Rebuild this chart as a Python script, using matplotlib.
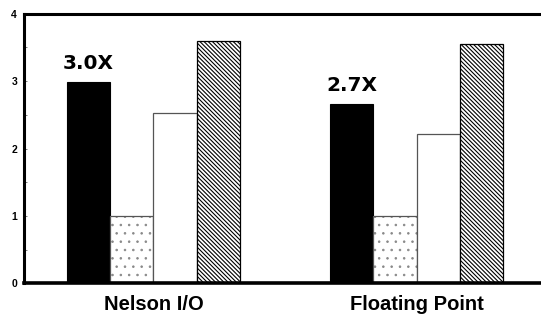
import matplotlib
matplotlib.use("Agg")
import matplotlib.pyplot as plt
import numpy as np

plt.rcParams['font.family'] = ['Liberation Sans', 'DejaVu Sans']

categories = ["Nelson I/O", "Floating Point"]
black_vals = [2.99, 2.66]
dot_vals = [1.0, 1.0]
white_vals = [2.53, 2.21]
hatch_vals = [3.59, 3.55]
annotations = ["3.0X", "2.7X"]
yticks = [0, 1, 2, 3, 4]

fig = plt.figure(figsize=(5.41, 3.16), dpi=100)
ax = fig.add_axes([0.0444, 0.103, 0.9556, 0.854])

x = np.arange(len(categories))
w = 0.165
offsets = [-1.5 * w, -0.5 * w, 0.5 * w, 1.5 * w]

ax.bar(x + offsets[0], black_vals, w, color='black', edgecolor='black', linewidth=0.8)

plt.rcParams['hatch.linewidth'] = 0.6
ax.bar(x + offsets[1], dot_vals, w, color='white', edgecolor='#888888', hatch='..', linewidth=0)
ax.bar(x + offsets[1], dot_vals, w, fill=False, edgecolor='#555555', linewidth=0.9)

ax.bar(x + offsets[2], white_vals, w, color='white', edgecolor='#555555', linewidth=0.9)

plt.rcParams['hatch.linewidth'] = 0.8
ax.bar(x + offsets[3], hatch_vals, w, color='white', edgecolor='black', hatch='\\' * 8, linewidth=0.9)

for xi, v, t in zip(x + offsets[0], black_vals, annotations):
    ax.text(xi, v + 0.13, t, ha='center', va='bottom', fontsize=14.5,
            family=['DejaVu Sans'], fontweight='bold')

ax.set_xlim(-0.492, 1.473)
ax.set_ylim(0, 4)
ax.set_yticks(yticks)
ax.set_yticklabels([str(t) for t in yticks], fontsize=7.5, fontweight='bold')
ax.set_yticks(np.arange(0, 4.01, 0.5), minor=True)
ax.tick_params(axis='y', which='both', direction='in', length=2, width=0.6, pad=5, color='#666666')
ax.set_xticks(x)
ax.set_xticklabels(categories, fontsize=14.5, fontweight='bold')
ax.tick_params(axis='x', length=0, pad=8)

for s in ['left', 'top']:
    ax.spines[s].set_linewidth(2.2)
ax.spines['bottom'].set_linewidth(2.6)
ax.spines['right'].set_visible(False)

fig.savefig('out.png', dpi=100)
